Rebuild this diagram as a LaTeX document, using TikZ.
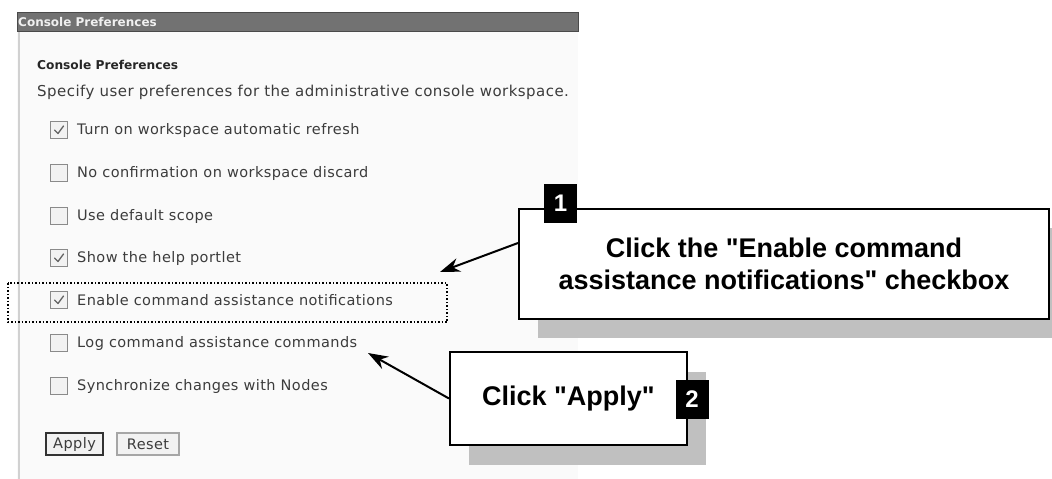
\documentclass[tikz,border=0pt]{standalone}
\usepackage{fontspec}
\setmainfont{Liberation Sans}
\newfontfamily\uifont[LetterSpace=3]{DejaVu Sans}
\newfontfamily\uiboldfont{DejaVu Sans Bold}
\usetikzlibrary{arrows.meta,calc}

\definecolor{panelbg}{HTML}{FAFAFA}
\definecolor{titlebg}{HTML}{727272}
\definecolor{titleedge}{HTML}{4A4A4A}
\definecolor{uitext}{HTML}{3C3C3C}
\definecolor{boxedge}{HTML}{8A8A8A}
\definecolor{boxfill}{HTML}{F2F2F2}
\definecolor{shade}{HTML}{C0C0C0}

\tikzset{
  x=1pt, y=-1pt,
  uilabel/.style={anchor=west, inner sep=0pt, text=uitext, font=\uifont\fontsize{14.5}{17}\selectfont},
  checkbox/.style={draw=boxedge, fill=boxfill, line width=1.2pt, minimum width=17pt, minimum height=17pt, inner sep=0pt},
  tick/.style={draw=uitext!80, line width=1.3pt, line cap=round, line join=round},
  callout/.style={draw=black, fill=white, line width=2pt, align=center, inner sep=0pt,
    font=\bfseries\fontsize{27}{32}\selectfont},
  shadowbox/.style={fill=shade, draw=none},
  tag/.style={fill=black, text=white, inner sep=0pt, minimum width=33pt, minimum height=39pt,
    font=\bfseries\fontsize{24}{24}\selectfont},
  pointer/.style={draw=black, line width=2pt, -{Stealth[length=20pt, width=14pt]}},
  uibutton/.style={fill=boxfill, inner sep=0pt, text=uitext, font=\uifont\fontsize{14.5}{17}\selectfont}
}

\begin{document}
\begin{tikzpicture}
\useasboundingbox (0,0) rectangle (1052,479);
\fill[white] (0,0) rectangle (1052,479);

% console panel
\fill[panelbg] (17,12) rectangle (578,479);
\draw[draw=black!18, line width=2pt] (19,31) -- (19,479);
\node[fill=titlebg, draw=titleedge, line width=1pt, minimum width=561pt, minimum height=19pt,
  anchor=north west, inner sep=0pt] (titlebar) at (17,12) {};
\node[anchor=west, inner sep=0pt, text=black!6, font=\uiboldfont\fontsize{12}{14}\selectfont]
  (titletext) at (18,22) {Console Preferences};
\node[anchor=west, inner sep=0pt, text=black!85, font=\uiboldfont\fontsize{12.2}{14}\selectfont]
  (heading) at (37,65) {Console Preferences};
\node[uilabel, font=\uifont\fontsize{15}{17}\selectfont] (intro) at (37,92)
  {Specify user preferences for the administrative console workspace.};

% checkbox rows
\node[checkbox] (cb1) at (59,130) {};
\node[uilabel] (l1) at (77,130) {Turn on workspace automatic refresh};
\node[checkbox] (cb2) at (59,173) {};
\node[uilabel] (l2) at (77,173) {No confirmation on workspace discard};
\node[checkbox] (cb3) at (59,216) {};
\node[uilabel] (l3) at (77,216) {Use default scope};
\node[checkbox] (cb4) at (59,258) {};
\node[uilabel] (l4) at (77,258) {Show the help portlet};
\node[checkbox] (cb5) at (59,300) {};
\node[uilabel] (l5) at (77,300) {Enable command assistance notifications};
\node[checkbox] (cb6) at (59,343) {};
\node[uilabel] (l6) at (77,343) {Log command assistance commands};
\node[checkbox] (cb7) at (59,386) {};
\node[uilabel] (l7) at (77,386) {Synchronize changes with Nodes};

% ticks in the checked boxes
\foreach \c in {cb1,cb4,cb5}{
  \draw[tick] ($(\c.center)+(-4.5,0)$) -- ($(\c.center)+(-1,3.5)$) -- ($(\c.center)+(4.5,-4)$);
}

% buttons
\node[uibutton, draw=black!80, line width=2pt, minimum width=57pt, minimum height=22pt] (apply) at (74.5,444) {Apply};
\node[uibutton, draw=black!35, line width=1.2pt, minimum width=62pt, minimum height=22pt] (reset) at (148,444) {Reset};

% highlight around the option
\draw[black, line width=1.5pt, dotted] (8,283) rectangle (447,322);

% callout 1
\fill[shadowbox] (538,228) rectangle (1068,338);
\node[callout, minimum width=530pt, minimum height=110pt] (box1) at (784,264)
  {Click the \textquotedbl Enable command\\assistance notifications\textquotedbl{} checkbox};
\node[tag] (tag1) at (560.5,203.5) {1};
\coordinate (tip1) at (440,272);
\draw[pointer] ($(box1.west)+(0,-21)$) -- (tip1);

% callout 2
\fill[shadowbox] (469,372) rectangle (706,465);
\node[callout, minimum width=237pt, minimum height=93pt] (box2) at (568.5,398.5)
  {Click \textquotedbl Apply\textquotedbl};
\node[tag] (tag2) at (692,399) {2};
\coordinate (tip2) at (368,353);
\draw[pointer] (box2.west) -- (tip2);
\end{tikzpicture}
\end{document}
